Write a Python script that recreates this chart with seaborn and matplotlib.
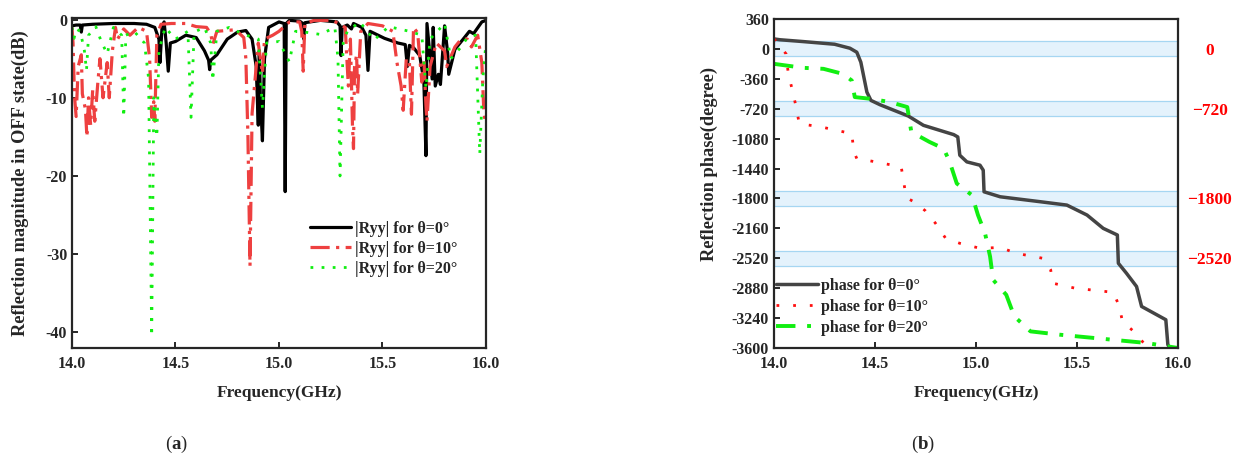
import matplotlib
matplotlib.use("Agg")
import matplotlib.pyplot as plt
import seaborn as sns

# (a) reflection magnitude, dB
mag_f0 = [14.00, 14.02, 14.04, 14.045, 14.05, 14.10, 14.20, 14.30, 14.36, 14.40, 14.42, 14.425, 14.435, 14.445,
          14.455, 14.465, 14.475, 14.50, 14.55, 14.60, 14.64, 14.66, 14.665, 14.67, 14.70, 14.75, 14.80, 14.84,
          14.87, 14.89, 14.90, 14.905, 14.91, 14.92, 14.93, 14.95, 15.00, 15.025, 15.03, 15.035, 15.05, 15.10,
          15.115, 15.12, 15.125, 15.20, 15.28, 15.295, 15.30, 15.305, 15.33, 15.35, 15.36, 15.40, 15.42, 15.43,
          15.44, 15.51, 15.575, 15.61, 15.62, 15.63, 15.65, 15.68, 15.70, 15.71, 15.715, 15.74, 15.745, 15.755,
          15.77, 15.78, 15.80, 15.815, 15.82, 15.85, 15.89, 15.92, 15.94, 15.98, 16.00]
mag_db0 = [-0.8, -0.7, -0.7, -1.6, -0.7, -0.6, -0.5, -0.5, -0.6, -1.0, -2.5, -5.5, -1.0, -0.3,
           -3.0, -6.6, -3.0, -2.8, -2.0, -2.3, -4.0, -5.2, -6.4, -5.2, -4.5, -2.5, -1.6, -1.4,
           -2.5, -6.0, -13.5, -4.0, -10.0, -15.5, -5.0, -1.0, -0.3, -0.5, -22.0, -0.5, -0.1, -0.2,
           -0.5, -2.5, -0.4, -0.1, -0.3, -0.8, -4.6, -1.0, -0.7, -1.2, -0.5, -1.0, -2.0, -6.5,
           -1.5, -2.4, -3.0, -3.2, -6.0, -3.3, -3.6, -4.6, -7.9, -17.4, -0.5, -7.6, -1.0, -8.5,
           -7.0, -8.3, -0.8, -4.3, -7.0, -3.8, -2.5, -1.5, -1.8, -0.3, -0.1]

mag_f10 = [14.000, 14.005, 14.012, 14.020, 14.030, 14.045, 14.050, 14.065, 14.072, 14.080, 14.090, 14.100,
           14.110, 14.125, 14.135, 14.150, 14.170, 14.180, 14.195, 14.210, 14.220, 14.250, 14.280, 14.320,
           14.360, 14.375, 14.385, 14.395, 14.400, 14.410, 14.430, 14.480, 14.550, 14.600, 14.650, 14.670,
           14.680, 14.700, 14.790, 14.830, 14.840, 14.850, 14.860, 14.870, 14.900, 14.920, 14.930, 14.970,
           15.000, 15.050, 15.100, 15.110, 15.117, 15.125, 15.170, 15.260, 15.320, 15.335, 15.345, 15.355,
           15.360, 15.365, 15.375, 15.380, 15.395, 15.430, 15.500, 15.550, 15.570, 15.590, 15.600, 15.615,
           15.630, 15.640, 15.650, 15.670, 15.690, 15.700, 15.710, 15.715, 15.730, 15.760, 15.800, 15.810,
           15.850, 15.880, 15.910, 15.930, 15.960, 15.980, 15.990, 16.000]
mag_db10 = [-1.0, -3.0, -9.8, -12.4, -6.0, -4.5, -9.5, -11.5, -15.0, -10.0, -13.5, -9.0,
            -13.0, -8.0, -5.0, -10.0, -5.5, -10.0, -4.0, -1.0, -2.5, -1.2, -2.0, -1.0,
            -1.5, -5.0, -12.5, -10.5, -13.0, -2.0, -0.6, -0.5, -0.5, -0.9, -1.0, -1.8,
            -3.2, -1.5, -1.3, -2.3, -5.0, -15.0, -31.5, -12.0, -3.0, -6.9, -2.5, -2.0,
            -1.5, -0.3, -0.3, -1.5, -6.6, -0.5, -0.1, -0.1, -1.0, -8.5, -2.5, -13.5,
            -16.5, -6.0, -4.5, -9.5, -1.5, -0.5, -0.8, -1.5, -5.5, -8.5, -11.6, -5.0,
            -5.4, -12.1, -1.0, -1.7, -8.0, -5.0, -11.0, -13.0, -6.0, -3.0, -4.0, -6.0,
            -3.5, -2.5, -2.5, -3.5, -2.0, -5.5, -12.0, -13.5]

mag_f20 = [14.000, 14.010, 14.020, 14.040, 14.060, 14.070, 14.080, 14.115, 14.140, 14.170, 14.200, 14.240,
           14.250, 14.260, 14.300, 14.350, 14.370, 14.385, 14.395, 14.410, 14.420, 14.450, 14.500, 14.560,
           14.575, 14.590, 14.640, 14.670, 14.680, 14.700, 14.760, 14.830, 14.900, 14.920, 14.940, 15.000,
           15.050, 15.080, 15.100, 15.200, 15.270, 15.285, 15.295, 15.310, 15.330, 15.390, 15.460, 15.530,
           15.630, 15.690, 15.710, 15.730, 15.800, 15.830, 15.880, 15.910, 15.950, 15.970, 15.985, 16.000]
mag_db20 = [-1.0, -2.4, -1.2, -1.5, -4.0, -6.5, -2.0, -0.9, -2.7, -4.4, -1.0, -2.0,
            -12.5, -2.0, -1.5, -3.0, -7.5, -40.5, -10.0, -15.0, -4.0, -1.0, -2.5, -1.5,
            -12.5, -1.6, -1.0, -3.0, -7.8, -1.5, -1.0, -1.9, -2.5, -11.3, -3.0, -2.8,
            -5.4, -1.5, -1.5, -1.9, -1.0, -5.0, -20.0, -3.0, -1.5, -0.3, -2.6, -0.9,
            -1.5, -2.0, -8.8, -2.5, -0.5, -5.0, -3.5, -2.3, -2.0, -17.2, -7.5, -3.0]

# (b) reflection phase, degree
ph_f0 = [14.00, 14.03, 14.145, 14.30, 14.376, 14.41, 14.43, 14.46, 14.48, 14.525, 14.665, 14.74, 14.89,
         14.91, 14.92, 14.955, 15.02, 15.036, 15.04, 15.12, 15.32, 15.45, 15.55, 15.63, 15.70, 15.705,
         15.745, 15.795, 15.82, 15.895, 15.94, 15.95, 15.96]
ph_deg0 = [120, 110, 88, 56, 8, -40, -160, -520, -620, -672, -808, -920, -1032,
           -1060, -1280, -1360, -1400, -1460, -1720, -1780, -1840, -1880, -2000, -2160, -2240, -2580,
           -2700, -2860, -3100, -3200, -3260, -3560, -3600]

ph_f10 = [14.00, 14.06, 14.07, 14.09, 14.11, 14.125, 14.235, 14.385, 14.396, 14.41, 14.46, 14.63, 14.655,
          14.70, 14.75, 14.80, 14.85, 14.92, 15.02, 15.12, 15.20, 15.33, 15.37, 15.38, 15.49, 15.68,
          15.71, 15.725, 15.79, 15.85]
ph_deg10 = [120, -60, -280, -490, -700, -900, -940, -1020, -1240, -1320, -1340, -1420, -1790,
            -1850, -1950, -2100, -2280, -2340, -2400, -2390, -2460, -2520, -2660, -2820, -2880, -2930,
            -3100, -3280, -3420, -3600]

ph_f20 = [14.00, 14.145, 14.245, 14.34, 14.385, 14.40, 14.475, 14.575, 14.66, 14.68, 14.77, 14.84, 14.87,
          14.905, 14.98, 15.01, 15.045, 15.07, 15.085, 15.15, 15.19, 15.27, 15.415, 15.63, 15.845, 16.00]
ph_deg20 = [-180, -228, -240, -300, -380, -580, -600, -640, -700, -1000, -1120, -1200, -1360,
            -1620, -1760, -2000, -2220, -2500, -2780, -2960, -3220, -3400, -3440, -3490, -3540, -3600]

band_centers = [0, -720, -1800, -2520]
band_labels = ["0", "\u2212720", "\u22121800", "\u22122520"]
phase_ticks = list(range(360, -3601, -360))

sns.set_style("ticks")
plt.rcParams['font.family'] = ['Liberation Serif', 'DejaVu Serif']
plt.rcParams['font.weight'] = 'bold'
plt.rcParams['axes.labelweight'] = 'bold'
plt.rcParams['axes.unicode_minus'] = False
plt.rcParams['mathtext.fontset'] = 'custom'
plt.rcParams['mathtext.rm'] = 'Liberation Serif'
plt.rcParams['mathtext.bf'] = 'Liberation Serif:bold'

fig = plt.figure(figsize=(12.35, 4.63), dpi=100)
ax1 = fig.add_axes([0.0583, 0.2484, 0.3352, 0.7127])
ax2 = fig.add_axes([0.6267, 0.2484, 0.3271, 0.7106])

# panel a
sns.lineplot(x=mag_f0, y=mag_db0, ax=ax1, color='black', lw=2.3, sort=False, estimator=None,
             label='|Ryy| for \u03b8=0\u00b0')
sns.lineplot(x=mag_f10, y=mag_db10, ax=ax1, color='#EE4040', lw=2.3, sort=False, estimator=None,
             linestyle=(0, (6, 2, 1, 2)), label='|Ryy| for \u03b8=10\u00b0')
sns.lineplot(x=mag_f20, y=mag_db20, ax=ax1, color='#11EE11', lw=2.0, sort=False, estimator=None,
             linestyle=(0, (1, 3)), label='|Ryy| for \u03b8=20\u00b0')
ax1.set_xlim(14.0, 16.0)
ax1.set_ylim(-42, 0.2)
ax1.set_xticks([14.0, 14.5, 15.0, 15.5, 16.0])
ax1.set_yticks([0, -10, -20, -30, -40])
ax1.set_xlabel('Frequency(GHz)', fontsize=12.5, labelpad=9)
ax1.set_ylabel('Reflection magnitude in OFF state(dB)', fontsize=13.2, labelpad=12)
ax1.legend(loc='center left', bbox_to_anchor=(0.54, 0.30), frameon=False, fontsize=11.5,
           handlelength=2.6, labelspacing=0.25, handletextpad=0.2)

# panel b
for c in band_centers:
    ax2.axhspan(c - 90, c + 90, facecolor='#E4F2FC', edgecolor='#A6D6F2', lw=0.9, zorder=0)
sns.lineplot(x=ph_f0, y=ph_deg0, ax=ax2, color='#444444', lw=2.5, sort=False, estimator=None,
             label='phase for \u03b8=0\u00b0')
sns.lineplot(x=ph_f10, y=ph_deg10, ax=ax2, color='#FF1010', lw=2.0, sort=False, estimator=None,
             linestyle=(0, (1, 5)), label='phase for \u03b8=10\u00b0')
sns.lineplot(x=ph_f20, y=ph_deg20, ax=ax2, color='#11EE11', lw=2.8, sort=False, estimator=None,
             linestyle=(0, (5, 3, 1, 3)), label='phase for \u03b8=20\u00b0')
ax2.set_xlim(14.0, 16.0)
ax2.set_ylim(-3600, 360)
ax2.set_xticks([14.0, 14.5, 15.0, 15.5, 16.0])
ax2.set_yticks(phase_ticks)
ax2.set_xlabel('Frequency(GHz)', fontsize=12.5, labelpad=9)
ax2.set_ylabel('Reflection phase(degree)', fontsize=13.2, labelpad=10)
ax2.yaxis.label.set_y(0.56)
ax2.legend(loc='center left', bbox_to_anchor=(-0.03, 0.125), frameon=False, fontsize=11.5,
           handlelength=2.6, labelspacing=0.3, handletextpad=0.2)

ax3 = ax2.twinx()
ax3.set_ylim(-3600, 360)
ax3.set_yticks(band_centers)
ax3.set_yticklabels(band_labels, color='red', fontsize=12.5, fontweight='bold', ha='center')
ax3.tick_params(axis='y', length=0, pad=23)
for s in ax3.spines.values():
    s.set_visible(False)

for ax in (ax1, ax2):
    for s in ax.spines.values():
        s.set_linewidth(1.6)
    ax.tick_params(direction='in', width=1.4, length=4, labelsize=11.5)
    ax.tick_params(axis='x', pad=6)
    for lab in ax.get_xticklabels() + ax.get_yticklabels():
        lab.set_fontweight('bold')

fig.text(0.143, 0.03, '($\\mathbf{a}$)', fontsize=13.5, ha='center', fontweight='normal')
fig.text(0.747, 0.03, '($\\mathbf{b}$)', fontsize=13.5, ha='center', fontweight='normal')

fig.savefig('out.png', dpi=100)
